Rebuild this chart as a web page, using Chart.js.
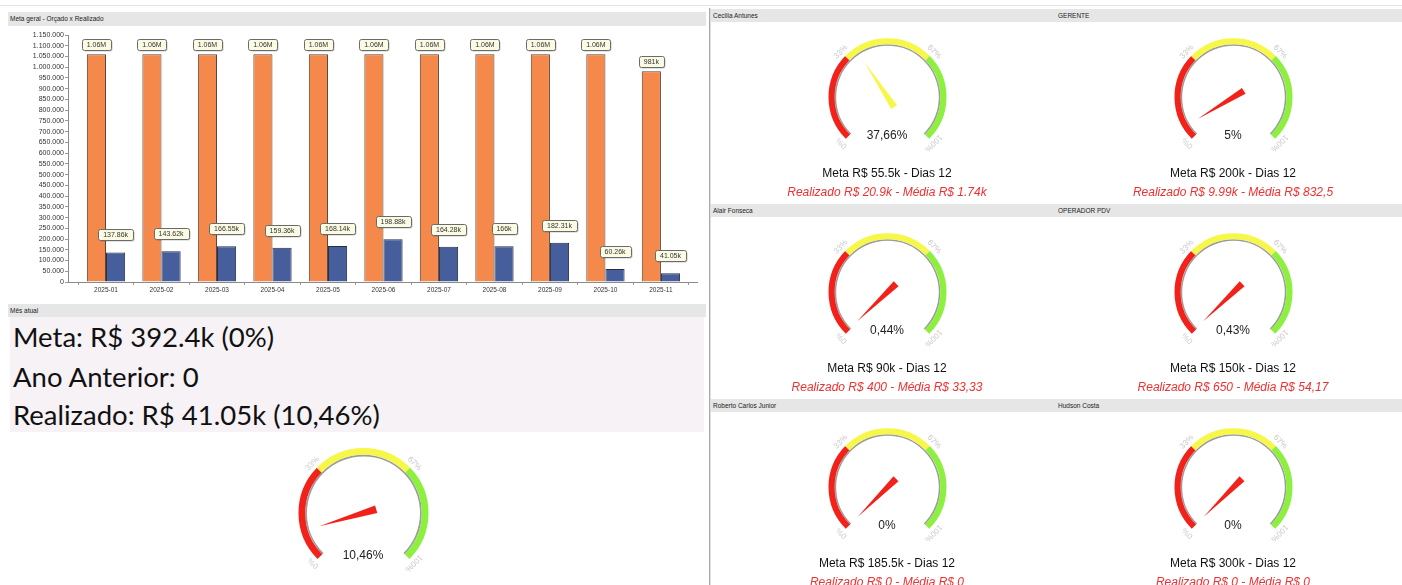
<!DOCTYPE html>
<html><head><meta charset="utf-8">
<script src="https://cdn.jsdelivr.net/npm/chart.js@4.4.1/dist/chart.umd.min.js"></script>
<style>
body{margin:0;width:1402px;height:585px;overflow:hidden;background:#fff;font-family:"Liberation Sans",Arial,sans-serif;position:relative}
.abs{position:absolute}
.hdr{position:absolute;background:#e6e6e6;font-size:6.5px;color:#222;line-height:13px;box-sizing:border-box;white-space:nowrap}
.big{position:absolute;left:13px;font-family:Lato,"Open Sans",sans-serif;font-size:27.5px;color:#111;line-height:32px;white-space:nowrap}
.gtxt{position:absolute;width:300px;text-align:center;font-size:12px;line-height:14px;white-space:nowrap}
</style></head>
<body>
<div class="abs" style="left:0;top:5px;width:1402px;height:1px;background:#e4e4e4"></div>
<div class="hdr" style="left:8px;top:12px;width:698px;height:14px;padding-left:2px">Meta geral - Orçado x Realizado</div>
<div class="abs" style="left:0;top:26px;width:705px;height:276px"><canvas id="bars" width="705" height="276"></canvas></div>
<div class="hdr" style="left:8px;top:304px;width:698px;height:13px;padding-left:2px">Mês atual</div>
<div class="abs" style="left:10px;top:317px;width:694px;height:115px;background:#f6f2f6"></div>
<div id="bigtxt"></div>
<div class="abs" style="left:709px;top:8px;width:1px;height:577px;background:#a8a8a8"></div>
<div class="abs" style="left:710px;top:8px;width:1px;height:577px;background:#e0e0e0"></div>
<div id="gauges"></div>
<script>
// ---- data ----
const months = ['2025-01','2025-02','2025-03','2025-04','2025-05','2025-06','2025-07','2025-08','2025-09','2025-10','2025-11'];
const orcado = [1060000,1060000,1060000,1060000,1060000,1060000,1060000,1060000,1060000,1060000,981000];
const realizado = [137860,143620,166550,159360,168140,198880,164280,166000,182310,60260,41050];
const yMax = 1150000;
const yStep = 50000;

const mesLines = ['Meta: R$ 392.4k (0%)','Ano Anterior: 0','Realizado: R$ 41.05k (10,46%)'];
const mesPct = 10.46;

const gaugeNames = ['Cecilia Antunes','GERENTE','Alair Fonseca','OPERADOR PDV','Roberto Carlos Junior','Hudson Costa'];
const gaugePct = [37.66, 5, 0.44, 0.43, 0, 0];
const gaugeMeta = ['55.5k','200k','90k','150k','185.5k','300k'];
const gaugeDias = [12,12,12,12,12,12];
const gaugeRealizado = ['20.9k','9.99k','400','650','0','0'];
const gaugeMedia = ['1.74k','832,5','33,33','54,17','0','0'];

const zoneSizes = [33,34,33];
const zoneLabels = ['0%','33%','67%','100%'];
const zoneColors = ['#f2221a','#f7f74a','#8def3e'];

// ---- bar chart ----
function fmtShort(v){
  if (v >= 1e6) return parseFloat((v/1e6).toFixed(2)) + 'M';
  return parseFloat((v/1e3).toFixed(2)) + 'k';
}
function rr(ctx,x,y,w,h,r){
  ctx.beginPath();ctx.moveTo(x+r,y);ctx.lineTo(x+w-r,y);ctx.quadraticCurveTo(x+w,y,x+w,y+r);
  ctx.lineTo(x+w,y+h-r);ctx.quadraticCurveTo(x+w,y+h,x+w-r,y+h);ctx.lineTo(x+r,y+h);
  ctx.quadraticCurveTo(x,y+h,x,y+h-r);ctx.lineTo(x,y+r);ctx.quadraticCurveTo(x,y,x+r,y);ctx.closePath();
}
const boxPlugin = {
  id:'boxes',
  afterDatasetsDraw(chart){
    const ctx = chart.ctx;
    ctx.save();
    ctx.font = '7px "Liberation Sans", Arial';
    chart.data.datasets.forEach((ds,di)=>{
      chart.getDatasetMeta(di).data.forEach((bar,i)=>{
        const txt = fmtShort(ds.data[i].y);
        const w = Math.round(ctx.measureText(txt).width + 10), h = 11;
        const x = Math.round(bar.x - w/2) + 0.5, y = Math.round(bar.y - ds.labelGap - h) + 0.5;
        ctx.fillStyle='rgba(0,0,0,0.22)'; rr(ctx,x+1,y+1,w,h,2); ctx.fill();
        ctx.fillStyle='#fbfbe3'; rr(ctx,x,y,w,h,2); ctx.fill();
        ctx.strokeStyle='#6a6a6a'; ctx.lineWidth=1; ctx.stroke();
        ctx.fillStyle='#333'; ctx.textAlign='center'; ctx.textBaseline='middle';
        ctx.fillText(txt, bar.x, y + h/2 + 0.5);
      });
    });
    ctx.restore();
  }
};
new Chart(document.getElementById('bars'), {
  type:'bar',
  data:{datasets:[
    {label:'Orçado', data: orcado.map((v,i)=>({x:i,y:v})), backgroundColor:'#f5884b', borderColor:'#5c4536', borderWidth:1, borderSkipped:'bottom', categoryPercentage:0.69, barPercentage:1, labelGap:4},
    {label:'Realizado', data: realizado.map((v,i)=>({x:i,y:v})), backgroundColor:'#465e9c', borderColor:'#2a2f40', borderWidth:1, borderSkipped:'bottom', categoryPercentage:0.69, barPercentage:1, labelGap:12}
  ]},
  options:{
    responsive:false, animation:false, events:[],
    layout:{padding:{top:9,right:8,left:0,bottom:0}},
    plugins:{legend:{display:false},tooltip:{enabled:false}},
    scales:{
      x:{type:'linear', min:-0.685, max:10.65, offset:false,
        afterBuildTicks:s=>{s.ticks = months.map((m,i)=>({value:i}));},
        ticks:{callback:v=>months[v], font:{size:6.5,family:'"Liberation Sans", Arial'}, color:'#333', padding:1, autoSkip:false, maxRotation:0},
        grid:{offset:true, drawOnChartArea:false, tickLength:3, color:'#999'},
        border:{color:'#8a8a8a'},
        afterFit:s=>{s.height=20;}
      },
      y:{min:0, max:yMax,
        ticks:{stepSize:yStep, callback:v=>v.toLocaleString('pt-BR'), font:{size:7,family:'"Liberation Sans", Arial'}, color:'#333', padding:1, autoSkip:false},
        grid:{drawOnChartArea:false, tickLength:3, color:'#999'},
        border:{color:'#8a8a8a'},
        afterFit:s=>{s.width=68;}
      }
    }
  },
  plugins:[boxPlugin]
});

// ---- mês atual text ----
const bt = document.getElementById('bigtxt');
const lineMid = [337,377,415];
mesLines.forEach((t,i)=>{
  const d=document.createElement('div'); d.className='big'; d.style.top=(lineMid[i]-16)+'px'; d.textContent=t; bt.appendChild(d);
});

// ---- gauges ----
const needlePlugin = {
  id:'needle',
  afterDatasetsDraw(chart, args, opts){
    const arc = chart.getDatasetMeta(0).data[0];
    const cx = arc.x, cy = arc.y, R = arc.outerRadius, k = R/59;
    const ctx = chart.ctx;
    ctx.save();
    ctx.fillStyle='#c9c9c9'; ctx.font='8px "Liberation Sans", Arial'; ctx.textAlign='center'; ctx.textBaseline='middle';
    let acc = 0;
    const total = zoneSizes.reduce((a,b)=>a+b,0);
    zoneLabels.forEach((lab,i)=>{
      const a = (-135 + acc/total*270) * Math.PI/180;
      const r = R + 6;
      ctx.save(); ctx.translate(cx + r*Math.sin(a), cy - r*Math.cos(a)); ctx.rotate(a); ctx.fillText(lab,0,0); ctx.restore();
      if (i < zoneSizes.length) acc += zoneSizes[i];
    });
    const v = Math.max(0, Math.min(100, opts.value));
    const a = (-135 + v/100*270) * Math.PI/180;
    const ux = Math.sin(a), uy = -Math.cos(a), nx = Math.cos(a), ny = Math.sin(a);
    const bx = cx - 12*k*ux, by = cy - 12*k*uy, tx = cx + 42*k*ux, ty = cy + 42*k*uy;
    let c = zoneColors[0], lim = 0;
    zoneSizes.forEach((s,i)=>{ if (v >= lim) c = zoneColors[i]; lim += s; });
    ctx.fillStyle = c;
    const hw = 3.5*k;
    ctx.beginPath(); ctx.moveTo(bx + hw*nx, by + hw*ny); ctx.lineTo(tx, ty); ctx.lineTo(bx - hw*nx, by - hw*ny); ctx.closePath(); ctx.fill();
    ctx.restore();
  }
};
const OFF = (1 - Math.SQRT1_2)/2;
const gRoot = document.getElementById('gauges');
function makeGauge(cx, cy, R, pct){
  const W = Math.round(R*2.9), H = Math.round(R*2.6);
  const wrap = document.createElement('div'); wrap.className='abs';
  wrap.style.left = (cx - W/2)+'px'; wrap.style.top = (cy - H/2 - OFF*R)+'px';
  const cv = document.createElement('canvas'); cv.width=W; cv.height=H; wrap.appendChild(cv); gRoot.appendChild(wrap);
  new Chart(cv, {
    type:'doughnut',
    data:{datasets:[
      {data:zoneSizes, backgroundColor:zoneColors, borderWidth:0, weight:4},
      {data:[100], backgroundColor:['#9c9c9c'], borderWidth:0, weight:1}
    ]},
    options:{responsive:false, animation:false, events:[], rotation:-135, circumference:270, radius:R, cutout:'87%',
      plugins:{legend:{display:false}, tooltip:{enabled:false}, needle:{value:pct}}},
    plugins:[needlePlugin]
  });
  const t = document.createElement('div'); t.className='gtxt'; t.style.left=(cx-150)+'px'; t.style.top=(cy+38*R/59-7)+'px';
  t.style.color='#222'; t.textContent = pct.toLocaleString('pt-BR',{maximumFractionDigits:2}) + '%'; gRoot.appendChild(t);
}
function addText(cx, y, txt, style){
  const t=document.createElement('div'); t.className='gtxt'; t.style.left=(cx-150)+'px'; t.style.top=(y-7)+'px';
  Object.assign(t.style, style); t.textContent = txt; gRoot.appendChild(t);
}
function addHdr(x, y, w, txt){
  const h=document.createElement('div'); h.className='hdr'; h.style.left=x+'px'; h.style.top=y+'px'; h.style.width=w+'px'; h.style.height='13px'; h.style.paddingLeft='2px';
  h.textContent = txt; gRoot.appendChild(h);
}
const colX = [887, 1233], rowY = [97, 292, 487], hdrY = [9, 204, 399];
gaugeNames.forEach((name,i)=>{
  const col = i%2, row = Math.floor(i/2);
  addHdr(col===0?711:1056, hdrY[row], col===0?345:346, name);
  makeGauge(colX[col], rowY[row], 59, gaugePct[i]);
  addText(colX[col], rowY[row]+76, 'Meta R$ ' + gaugeMeta[i] + ' - Dias ' + gaugeDias[i], {color:'#111'});
  addText(colX[col], rowY[row]+95, 'Realizado R$ ' + gaugeRealizado[i] + ' - Média R$ ' + gaugeMedia[i], {color:'#f03030', fontStyle:'italic'});
});
makeGauge(363, 513, 65, mesPct);
</script>
</body></html>
